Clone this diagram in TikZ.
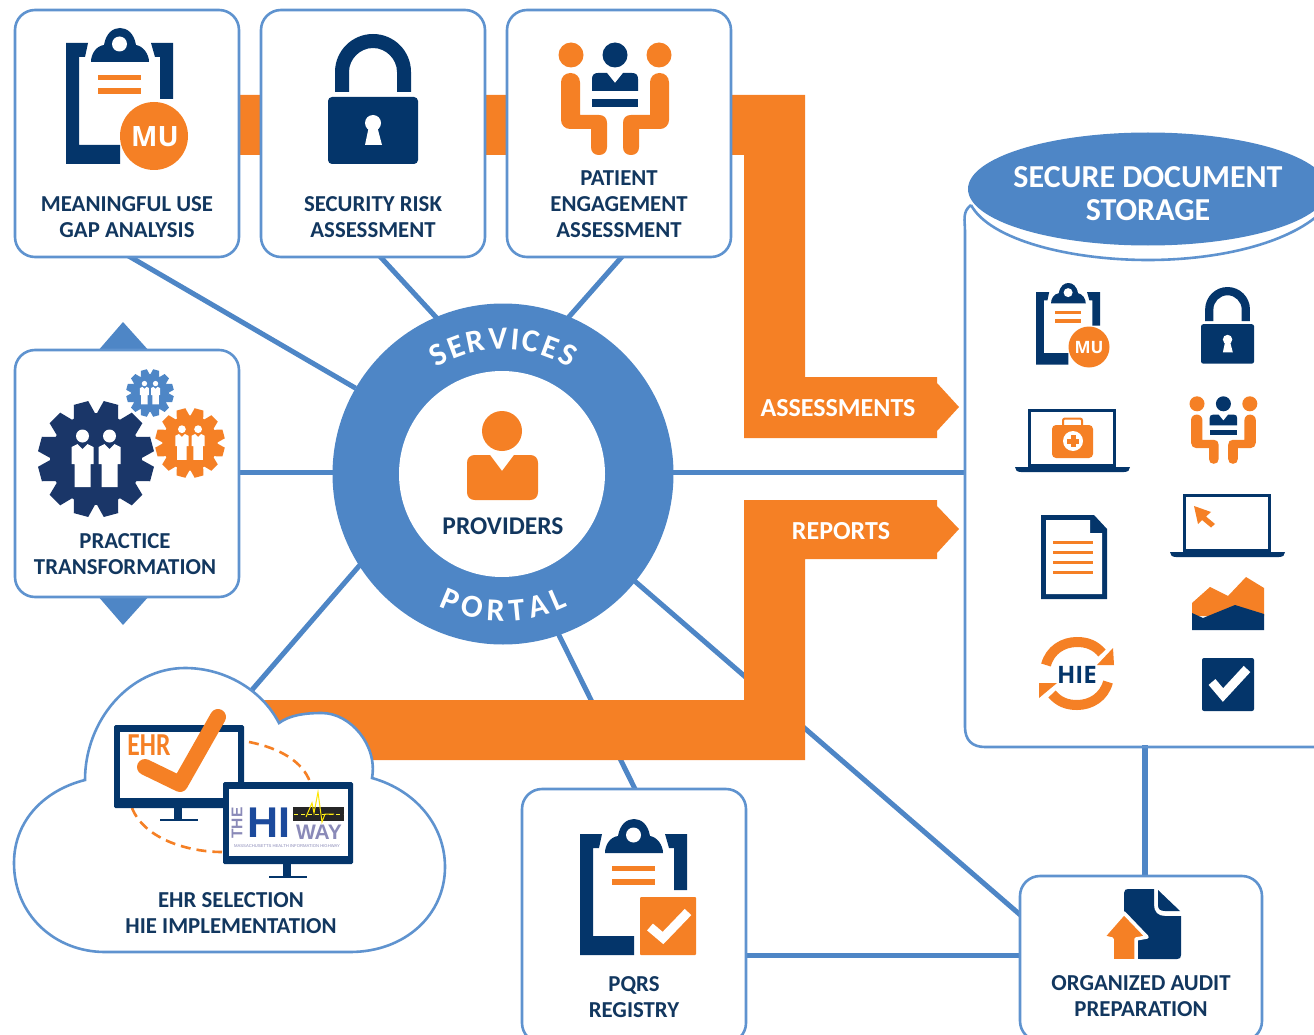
\documentclass[tikz,border=0pt]{standalone}
\usepackage{fontspec}
\setmainfont{Carlito}
\newfontfamily\arialf{Liberation Sans}
\newfontfamily\opensans{Open Sans}
\usetikzlibrary{decorations.text,shapes.geometric}
\definecolor{navy}{HTML}{04356A}
\definecolor{txt}{HTML}{12375F}
\definecolor{orng}{HTML}{F58025}
\definecolor{ringb}{HTML}{4E86C6}
\definecolor{edge}{HTML}{5F93CF}
\definecolor{gearn}{HTML}{1A3668}
\definecolor{hinavy}{HTML}{1C4A9C}
\definecolor{hipurple}{HTML}{8A8AB8}
\pgfdeclarelayer{bg}
\pgfsetlayers{bg,main}
\tikzset{
  lbl/.style={align=center,text=txt,inner sep=0pt,font=\bfseries\fontsize{22.8}{26}\selectfont},
  wlbl/.style={align=center,text=white,inner sep=0pt,font=\bfseries\fontsize{26}{26}\selectfont},
  card/.style={draw=edge,line width=2.6pt,fill=white,rounded corners=20pt,inner sep=0pt,outer sep=0pt},
  conn/.style={draw=ringb,line width=5pt},
  flow/.style={fill=orng},
  cloudline/.style={draw=edge,line width=2.6pt,fill=white},
  monitor/.style={fill=navy,rounded corners=1.5pt},
  dashlink/.style={draw=orng,line width=2.6pt,dash pattern=on 10pt off 6pt}
}
% clipboard: origin at top left of its bounding box
\newcommand{\iconClip}[3]{\begin{scope}[shift={(#1,#2)},x=#3pt,y=-#3pt]
  \fill[navy] (0,15) -- (22,15) -- (19,29) -- (13,29) -- (13,117) -- (54,117) -- (54,136) -- (0,136) -- cycle;
  \fill[navy] (85,15) -- (107,15) -- (107,71) -- (94,71) -- (94,29) -- (89,29) -- cycle;
  \fill[navy] (25,34) .. controls (25,26) and (30,18) .. (38,17) .. controls (40,5) and (47,0) .. (54,0) .. controls (61,0) and (68,5) .. (70,17) .. controls (77,18) and (83,26) .. (83,34) -- cycle;
  \fill[white] (53.5,16) circle[radius=7.5];
  \fill[orng] (32,47) rectangle (75,52);
  \fill[orng] (32,60) rectangle (75,66);
\end{scope}}
\newcommand{\iconLock}[3]{\begin{scope}[shift={(#1,#2)},x=#3pt,y=-#3pt]
  \fill[navy,rounded corners=4pt*#3] (0,63) rectangle (90,130);
  \fill[navy] (7,58) -- (7,38) .. controls (7,17) and (24,0) .. (45,0) .. controls (66,0) and (83,17) .. (83,38) -- (83,58) -- (69,58) -- (69,38) .. controls (69,25) and (58,14) .. (45,14) .. controls (32,14) and (21,25) .. (21,38) -- (21,58) -- cycle;
  \fill[white] (45,89) circle[radius=8];
  \fill[white] (41,92) -- (49,92) -- (54,111) -- (37,111) -- cycle;
\end{scope}}
\newcommand{\iconPeople}[3]{\begin{scope}[shift={(#1,#2)},x=#3pt,y=-#3pt]
  \fill[orng] (10,13) circle[radius=12.5];
  \fill[orng] (98,13) circle[radius=12.5];
  \fill[navy] (54,13) circle[radius=12.5];
  \fill[navy] (31,49) -- (31,37) .. controls (31,33) and (33,31) .. (37,31) -- (46,31) -- (54,41) -- (62,31) -- (71,31) .. controls (75,31) and (77,33) .. (77,37) -- (77,49) -- cycle;
  \fill[navy] (31,57) rectangle (77,65);
  \fill[orng] (0,40.5) .. controls (0,35) and (4,31) .. (9.5,31) .. controls (15,31) and (19,35) .. (19,40.5) -- (19,73) -- (38,73) .. controls (43,73) and (46,76) .. (46,81) -- (46,105) .. controls (46,110) and (43,113) .. (38,113) .. controls (33,113) and (30,110) .. (30,105) -- (30,87) -- (9,87) .. controls (4,87) and (0,83) .. (0,78) -- cycle;
  \fill[orng] (108,40.5) .. controls (108,35) and (104,31) .. (98.5,31) .. controls (93,31) and (89,35) .. (89,40.5) -- (89,73) -- (70,73) .. controls (65,73) and (62,76) .. (62,81) -- (62,105) .. controls (62,110) and (65,113) .. (70,113) .. controls (75,113) and (78,110) .. (78,105) -- (78,87) -- (99,87) .. controls (104,87) and (108,83) .. (108,78) -- cycle;
\end{scope}}
\newcommand{\iconFigure}[1]{%
  \fill[white] (#1,-23) circle[radius=6.5];
  \fill[white] (#1-11,-12) -- (#1-5,-15) -- (#1,-10) -- (#1+5,-15) -- (#1+11,-12) -- (#1+11,5) -- (#1+8,5) -- (#1+8,28) -- (#1-8,28) -- (#1-8,5) -- (#1-11,5) -- cycle;}
\newcommand{\iconGear}[4]{\begin{scope}[shift={(#1,#2)},x=#3pt,y=-#3pt]
  \fill[#4] (0,0) circle[radius=46];
  \foreach \a in {15,45,...,345}{\fill[#4,rotate=\a] (-11,-44) -- (-7.5,-58) -- (7.5,-58) -- (11,-44) -- cycle;}
  \iconFigure{-13.5}
  \iconFigure{13.5}
\end{scope}}
\newcommand{\iconLaptop}[2]{\begin{scope}[shift={(#1,#2)}]
  \draw[navy,line width=3.5pt] (1.7,1.7) rectangle (86.3,56.5);
  \fill[navy] (-13,58) -- (102,58) .. controls (102,61) and (100,63) .. (96,63) -- (-7,63) .. controls (-11,63) and (-13,61) .. (-13,58) -- cycle;
\end{scope}}
\newcommand{\iconCheck}[6]{\draw[white,line width=#6pt] (#1,#2) -- (#3,#4) -- (#5,#4-26);}
\begin{document}
\begin{tikzpicture}[x=1pt,y=-1pt]
\useasboundingbox (0,0) rectangle (1314,1035);
% ---- cards and hub
\node[card,minimum width=224pt,minimum height=247pt] (mu) at (127,133.5) {};
\node[card,minimum width=224pt,minimum height=247pt] (sec) at (373,133.5) {};
\node[card,minimum width=224pt,minimum height=247pt] (pat) at (619,133.5) {};
\node[card,minimum width=224pt,minimum height=247pt] (prac) at (127,473.5) {};
\node[card,minimum width=224pt,minimum height=254pt] (pqrs) at (634,916) {};
\node[card,minimum width=242pt,minimum height=165pt] (audit) at (1141,958.5) {};
\node[circle,fill=ringb,minimum size=341pt,inner sep=0pt,outer sep=0pt] (hub) at (503,474) {};
\node[circle,fill=white,minimum size=206pt,inner sep=0pt,outer sep=0pt] (hubin) at (502,474) {};
% ---- connector ends
\coordinate (cMu) at (120,251);
\coordinate (hSec) at (445,327);
\coordinate (cSec) at (375,251);
\coordinate (hPat) at (560,327);
\coordinate (cPat) at (627,251);
\coordinate (hW) at (340,472);
\coordinate (hE) at (665,472);
\coordinate (cStoreL) at (965,472);
\coordinate (cStoreB) at (1145,745);
\coordinate (hSW) at (366,558);
\coordinate (cCloud) at (245,698);
\coordinate (hS) at (552,621);
\coordinate (cPqrs) at (638,795);
\coordinate (hSE) at (630,577);
\coordinate (cAudit) at (1025,919);
\begin{pgfonlayer}{bg}
  \draw[conn] (hub) -- (cMu);
  \draw[conn] (hSec) -- (cSec);
  \draw[conn] (hPat) -- (cPat);
  \draw[conn] (hW) -- (prac.east |- hW);
  \draw[conn] (hE) -- (cStoreL);
  \draw[conn] (hSW) -- (cCloud);
  \draw[conn] (hS) -- (cPqrs);
  \draw[conn] (hSE) -- (cAudit);
  \draw[conn] (pqrs.east |- 0,955) -- (audit.west |- 0,955);
  \draw[conn,line width=6pt] (cStoreB) -- (audit.north -| cStoreB);
  \fill[flow] (200,95) -- (805,95) -- (805,377) -- (937,377) -- (937,383) -- (959,407) -- (937,431) -- (937,438) -- (744,438) -- (744,155) -- (200,155) -- cycle;
  \fill[flow] (744,500) -- (937,500) -- (937,506) -- (959,529) -- (937,553) -- (937,559) -- (805,559) -- (805,760) -- (300,760) -- (250,700) -- (744,700) -- cycle;
  \fill[ringb] (123,322) -- (97,352) -- (150,352) -- cycle;
  \fill[ringb] (123,625) -- (97,595) -- (150,595) -- cycle;
\end{pgfonlayer}
% ---- ring text and provider
\path[decorate,decoration={text along path,text align=fit to path,text={|\color{white}\bfseries\fontsize{32}{32}\selectfont|SERVICES}}]
  (436.8,368) arc[start angle=122,end angle=58,radius=125pt];
\path[decorate,decoration={text along path,text align=fit to path,text={|\color{white}\bfseries\fontsize{32}{32}\selectfont|PORTAL}}]
  (438.6,606.1) arc[start angle=244,end angle=296,radius=147pt];
\fill[orng] (502,431) circle[radius=20];
\fill[orng] (467,463) .. controls (467,458) and (470,455) .. (475,455) -- (490,455) -- (502,471) -- (514,455) -- (530,455) .. controls (535,455) and (538,458) .. (538,463) -- (538,492) .. controls (538,497) and (535,500) .. (530,500) -- (475,500) .. controls (470,500) and (467,497) .. (467,492) -- cycle;
\node[lbl,font=\bfseries\fontsize{25.5}{26}\selectfont] (tProv) at (503,526) {PROVIDERS};
% ---- storage
\fill[white] (965,215) rectangle (1330,735);
\draw[draw=edge,line width=2.6pt] (971,205) .. controls (962,212) and (965,220) .. (965,232) -- (965,727) .. controls (965,740) and (972,747) .. (985,747) -- (1330,747);
\draw[draw=edge,line width=2.6pt] (971,205) .. controls (990,240) and (1070,260) .. (1148,260) .. controls (1226,260) and (1300,240) .. (1328,205);
\node[ellipse,fill=ringb,minimum width=360pt,minimum height=113pt,inner sep=0pt] (store) at (1148,189) {};
\node[wlbl,font=\bfseries\fontsize{32}{33}\selectfont] (tStore) at (1148,194) {SECURE DOCUMENT\\STORAGE};
% ---- top cards
\iconClip{66}{28}{1}
\fill[orng] (154,136) circle[radius=34];
\node[wlbl,font=\opensans\bfseries\fontsize{28}{28}\selectfont] (tMU) at (155,137) {MU};
\node[lbl] (tMUl) at (127,217) {MEANINGFUL USE\\GAP ANALYSIS};
\iconLock{328}{34}{1}
\node[lbl] (tSec) at (373,217) {SECURITY RISK\\ASSESSMENT};
\iconPeople{561}{42}{1}
\node[lbl] (tPat) at (619,204) {PATIENT\\ENGAGEMENT\\ASSESSMENT};
% ---- practice
\iconGear{96}{459}{1}{gearn}
\iconGear{150}{393}{0.41}{ringb}
\iconGear{190}{443}{0.6}{orng}
\node[lbl] (tPrac) at (125,554) {PRACTICE\\TRANSFORMATION};
% ---- arrow labels
\node[wlbl] (tAss) at (838,408) {ASSESSMENTS};
\node[wlbl] (tRep) at (841,531) {REPORTS};
% ---- cloud
\draw[cloudline] (85,780) .. controls (45,790) and (14,820) .. (14,863) .. controls (14,915) and (55,952) .. (105,952) -- (350,952) .. controls (405,952) and (445,915) .. (445,867) .. controls (445,825) and (415,790) .. (372,778) .. controls (378,745) and (350,713) .. (322,713) .. controls (305,713) and (290,715) .. (279,723) .. controls (262,690) and (225,668) .. (185,668) .. controls (130,668) and (85,720) .. (85,780) -- cycle;
\draw[dashlink] (249,742) .. controls (280,748) and (303,762) .. (310,782);
\draw[dashlink] (132,808) .. controls (145,840) and (190,852) .. (222,852);
\fill[monitor] (114,725) rectangle (244,808);
\fill[white] (120,732) rectangle (238,798);
\fill[navy] (174,808) rectangle (182,819);
\fill[navy] (160,819) rectangle (198,821);
\node[font=\bfseries\fontsize{32}{32}\selectfont,text=orng,inner sep=0pt,xscale=.8] (tEHR) at (149,745) {EHR};
\draw[orng,line width=16pt,line cap=round,line join=round] (218,717) -- (180,784) -- (145,767);
\fill[monitor] (223,782) rectangle (353,864);
\fill[white] (229,789) rectangle (348,856);
\fill[navy] (283,864) rectangle (291,876);
\fill[navy] (269,876) rectangle (307,878);
\node[rotate=90,text=hipurple,font=\arialf\bfseries\fontsize{15.5}{15.5}\selectfont,inner sep=0pt] (tTHE) at (237,823) {THE};
\node[text=hinavy,font=\arialf\bfseries\fontsize{43}{43}\selectfont,inner sep=0pt] (tHI) at (269,823) {HI};
\fill[black!85] (293,807) rectangle (344,821);
\draw[yellow!80!white,line width=1pt,dash pattern=on 4pt off 3pt] (294,814) -- (343,814);
\draw[yellow!90!orange,line width=1pt] (306,817) -- (312,803) -- (314,813) -- (318,792) -- (322,822) -- (325,814) -- (334,814);
\node[text=hipurple,font=\arialf\bfseries\fontsize{21}{21}\selectfont,inner sep=0pt] (tWAY) at (319,832) {WAY};
\node[text=hipurple,font=\arialf\fontsize{4.2}{4.2}\selectfont,inner sep=0pt] (tMass) at (287,846.5) {MASSACHUSETTS HEALTH INFORMATION HIGHWAY};
\node[lbl] (tCloud) at (231,913) {EHR SELECTION\\HIE IMPLEMENTATION};
% ---- PQRS
\iconClip{580}{819}{1}
\fill[orng,rounded corners=1pt] (640,897) rectangle (696,955);
\iconCheck{650}{927}{663}{938}{688}{9}
\node[lbl] (tPq) at (634,997) {PQRS\\REGISTRY};
% ---- audit
\fill[navy] (1124,893) .. controls (1124,890) and (1126,889) .. (1128,889) -- (1154,889) -- (1154,905) .. controls (1154,912) and (1158,916) .. (1165,916) -- (1181,916) -- (1181,955) .. controls (1181,958) and (1180,959) .. (1177,959) -- (1124,959) -- cycle;
\fill[navy] (1158,890) -- (1180,911) -- (1165,911) .. controls (1160,911) and (1158,909) .. (1158,905) -- cycle;
\filldraw[draw=white,line width=3.5pt,fill=orng,line join=round] (1124,913) -- (1147,937) -- (1136,939) -- (1136,961) -- (1112,961) -- (1112,939) -- (1103,937) -- cycle;
\fill[white] (1100,959) rectangle (1140,963);
\node[lbl] (tAud) at (1141,996) {ORGANIZED AUDIT\\PREPARATION};
% ---- storage icons
\iconClip{1036}{283}{0.6}
\fill[orng] (1089,347) circle[radius=20.5];
\node[wlbl,font=\opensans\bfseries\fontsize{17}{17}\selectfont] (tMU2) at (1089,348) {MU};
\iconLock{1201}{287}{0.59}
\iconLaptop{1028}{409}
\fill[orng,rounded corners=4pt] (1052,425) rectangle (1093,458);
\draw[orng,line width=2pt,rounded corners=2pt] (1063,426) -- (1063,418.5) -- (1082,418.5) -- (1082,426);
\fill[white] (1073,441) circle[radius=10];
\fill[orng] (1070.5,435) rectangle (1075.5,447);
\fill[orng] (1067,438.5) rectangle (1079,443.5);
\iconPeople{1191}{396}{0.6}
\fill[navy] (1041,515) -- (1094,515) -- (1107,529) -- (1107,599) -- (1041,599) -- cycle;
\fill[white] (1046,520) -- (1090,520) -- (1090,533) -- (1102,533) -- (1102,594) -- (1046,594) -- cycle;
\foreach \yy in {542,552,562,572}{\fill[orng] (1053,\yy-1.5) rectangle (1093,\yy+1.5);}
\iconLaptop{1183}{494}
\fill[orng] (1194,506) -- (1211,512) -- (1206,516.5) -- (1215,524) -- (1211,527.5) -- (1202,520) -- (1198,524) -- cycle;
\fill[orng] (1192,603) -- (1210,587) -- (1228,596) -- (1246,577) -- (1264,588) -- (1264,616) -- (1192,616) -- cycle;
\fill[navy] (1192,613) -- (1203,618) -- (1235,605) -- (1264,614) -- (1264,630) -- (1192,630) -- cycle;
% HIE cycle
\draw[orng,line width=10pt] (1046,665) .. controls (1050,650) and (1063,642) .. (1077,642) .. controls (1087,642) and (1095,645) .. (1102,653);
\fill[orng] (1113,648) -- (1114,665) -- (1097,665) -- cycle;
\draw[orng,line width=10pt] (1108,682) .. controls (1104,697) and (1091,705) .. (1077,705) .. controls (1067,705) and (1059,702) .. (1052,694);
\fill[orng] (1039,698) -- (1039,683) -- (1057,683) -- cycle;
\node[font=\opensans\bfseries\fontsize{24}{24}\selectfont,text=navy,inner sep=0pt] (tHIE) at (1077,675) {HIE};
\fill[navy,rounded corners=2pt] (1202,658) rectangle (1254,711);
\iconCheck{1212}{682}{1223}{695}{1247}{9}
\end{tikzpicture}
\end{document}
